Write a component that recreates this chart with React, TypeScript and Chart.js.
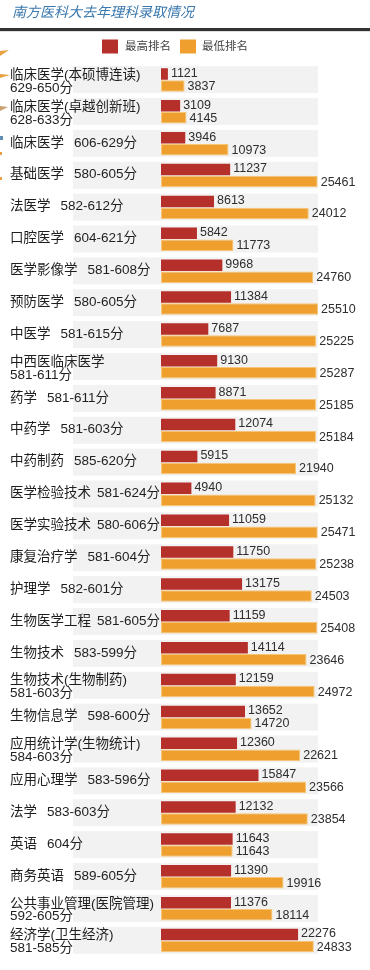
import React, { useEffect, useRef } from "react";
import { Chart, registerables } from "chart.js";

Chart.register(...registerables);

const TITLE = "南方医科大去年理科录取情况";
const SERIES_NAMES = ["最高排名", "最低排名"];

const majors = [
  "临床医学(本硕博连读)", "临床医学(卓越创新班)", "临床医学", "基础医学", "法医学",
  "口腔医学", "医学影像学", "预防医学", "中医学", "中西医临床医学",
  "药学", "中药学", "中药制药", "医学检验技术", "医学实验技术",
  "康复治疗学", "护理学", "生物医学工程", "生物技术", "生物技术(生物制药)",
  "生物信息学", "应用统计学(生物统计)", "应用心理学", "法学", "英语",
  "商务英语", "公共事业管理(医院管理)", "经济学(卫生经济)",
];

const scoreRanges = [
  "629-650分", "628-633分", "606-629分", "580-605分", "582-612分",
  "604-621分", "581-608分", "580-605分", "581-615分", "581-611分",
  "581-611分", "581-603分", "585-620分", "581-624分", "580-606分",
  "581-604分", "582-601分", "581-605分", "583-599分", "581-603分",
  "598-600分", "584-603分", "583-596分", "583-603分", "604分",
  "589-605分", "592-605分", "581-585分",
];

const highestRank = [
  1121, 3109, 3946, 11237, 8613, 5842, 9968, 11384, 7687, 9130,
  8871, 12074, 5915, 4940, 11059, 11750, 13175, 11159, 14114, 12159,
  13652, 12360, 15847, 12132, 11643, 11390, 11376, 22276,
];

const lowestRank = [
  3837, 4145, 10973, 25461, 24012, 11773, 24760, 25510, 25225, 25287,
  25185, 25184, 21940, 25132, 25471, 25238, 24503, 25408, 23646, 24972,
  14720, 22621, 23566, 23854, 11643, 19916, 18114, 24833,
];

const RED = "#b5302a";
const ORANGE = "#ee9f2e";
const FONT = '"Liberation Sans", "Noto Sans CJK SC", sans-serif';

const decorPlugin = {
  id: "decor",
  beforeDatasetsDraw(chart: any) {
    const ctx = chart.ctx;
    const y = chart.scales.y;
    ctx.save();
    ctx.fillStyle = "#f2f2f2";
    for (let i = 0; i < majors.length; i++) {
      const c = y.getPixelForValue(i);
      ctx.fillRect(73, c - 13.8, 245, 27);
    }
    ctx.restore();
  },
  afterDraw(chart: any) {
    const ctx = chart.ctx;
    const y = chart.scales.y;
    ctx.save();
    // title
    ctx.fillStyle = "#3a78ad";
    ctx.font = `italic 14px ${FONT}`;
    ctx.textBaseline = "middle";
    ctx.textAlign = "left";
    ctx.fillText(TITLE, 12, 13);
    // rule
    ctx.fillStyle = "#333333";
    ctx.fillRect(0, 28, 370, 3);
    ctx.fillStyle = "#dddddd";
    ctx.fillRect(0, 31, 370, 1);
    // small edge decorations (cut-off background art)
    ctx.fillStyle = "#e8a040";
    ctx.beginPath();
    ctx.moveTo(0, 51); ctx.lineTo(9, 50); ctx.lineTo(0, 56); ctx.closePath(); ctx.fill();
    ctx.beginPath();
    ctx.moveTo(0, 74); ctx.lineTo(10, 75); ctx.lineTo(0, 78); ctx.closePath(); ctx.fill();
    ctx.fillStyle = "#c9a070";
    ctx.beginPath();
    ctx.moveTo(0, 106); ctx.lineTo(8, 107); ctx.lineTo(0, 111); ctx.closePath(); ctx.fill();
    ctx.fillStyle = "#5f8fb8";
    ctx.fillRect(0, 136, 3, 4);
    ctx.fillStyle = "#e8a040";
    ctx.fillRect(0, 152, 2, 3);
    ctx.fillRect(0, 177, 2, 3);
    // legend
    ctx.fillStyle = RED;
    ctx.fillRect(102, 39.5, 16, 14);
    ctx.fillStyle = ORANGE;
    ctx.fillRect(180, 39.5, 16, 14);
    ctx.fillStyle = "#444444";
    ctx.font = `11.5px ${FONT}`;
    ctx.fillText(SERIES_NAMES[0], 125, 47);
    ctx.fillText(SERIES_NAMES[1], 202, 47);

    // category labels
    ctx.fillStyle = "#1e1e1e";
    ctx.font = `13.5px ${FONT}`;
    for (let i = 0; i < majors.length; i++) {
      const c = y.getPixelForValue(i);
      const w1 = ctx.measureText(majors[i]).width;
      const w2 = ctx.measureText(scoreRanges[i]).width;
      if (10 + w1 + 10 + w2 <= 156) {
        ctx.fillText(majors[i], 10, c - 0.8);
        ctx.fillText(scoreRanges[i], 10 + w1 + 10, c - 0.8);
      } else if (10 + w1 + 6 + w2 <= 162) {
        ctx.fillText(majors[i], 10, c - 0.8);
        ctx.fillText(scoreRanges[i], 10 + w1 + 6, c - 0.8);
      } else {
        ctx.fillText(majors[i], 10, c - 4.8);
        ctx.fillText(scoreRanges[i], 10, c + 8);
      }
    }

    // value labels
    ctx.fillStyle = "#2e2e2e";
    ctx.font = `12.5px ${FONT}`;
    chart.data.datasets.forEach((ds: any, di: number) => {
      const meta = chart.getDatasetMeta(di);
      meta.data.forEach((bar: any, i: number) => {
        ctx.fillText(String(ds.data[i]), bar.x + 3, bar.y + (di === 0 ? -0.5 : 0.5));
      });
    });
    ctx.restore();
  },
};

export default function App() {
  const ref = useRef<HTMLCanvasElement | null>(null);
  useEffect(() => {
    if (!ref.current) return;
    const chart = new Chart(ref.current, {
      type: "bar",
      data: {
        labels: majors,
        datasets: [
          {
            label: SERIES_NAMES[0],
            data: highestRank,
            backgroundColor: RED,
            borderWidth: 0,
            categoryPercentage: 0.76,
            barPercentage: 0.95,
          },
          {
            label: SERIES_NAMES[1],
            data: lowestRank,
            backgroundColor: ORANGE,
            borderColor: "#f6c677",
            borderWidth: 1,
            borderSkipped: false,
            categoryPercentage: 0.76,
            barPercentage: 0.95,
          },
        ],
      },
      options: {
        indexAxis: "y",
        responsive: false,
        maintainAspectRatio: false,
        animation: false,
        layout: { padding: { left: 161, right: 49, top: 64, bottom: 13.5 } },
        scales: {
          x: { display: false, min: 0, max: 26000 },
          y: { display: false, grid: { display: false } },
        },
        plugins: {
          legend: { display: false },
          title: { display: false },
          tooltip: { enabled: false },
        },
      },
      plugins: [decorPlugin],
    } as any);
    return () => chart.destroy();
  }, []);
  return (
    <div style={{ position: "absolute", left: 0, top: 0, width: 370, height: 970, background: "#fff" }}>
      <canvas ref={ref} width={370} height={970} style={{ width: 370, height: 970, display: "block" }} />
    </div>
  );
}
